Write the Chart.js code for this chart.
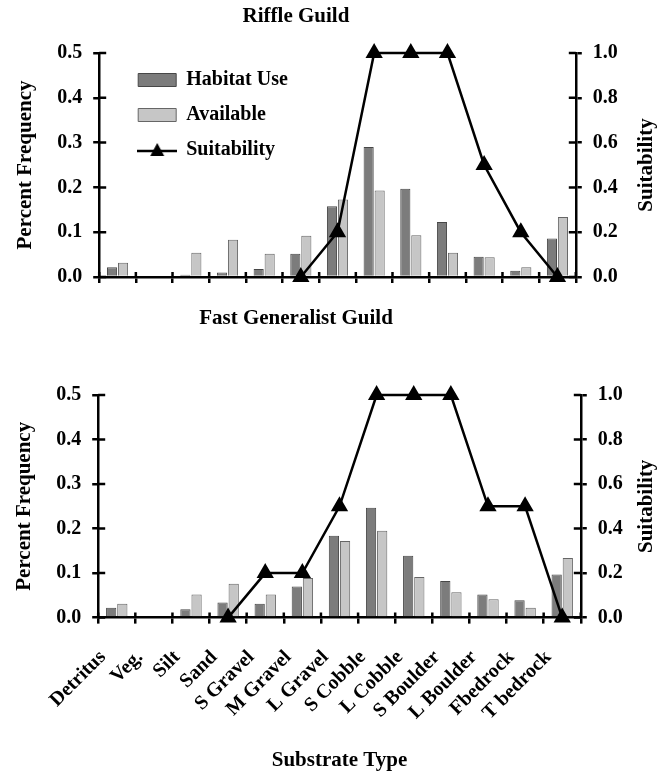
<!DOCTYPE html>
<html>
<head>
<meta charset="utf-8">
<script src="https://cdn.jsdelivr.net/npm/chart.js@4.4.1/dist/chart.umd.min.js"></script>
<style>
  body { margin: 0; background: #fff; }
  #wrap { position: relative; width: 671px; height: 773px; background: #fff; }
  canvas { position: absolute; left: 0; }
  .guild { position: absolute; left: 0; width: 592px; text-align: center;
           font: bold 21px "Liberation Serif", "Times New Roman", serif; line-height: 25px; }
</style>
</head>
<body>
<div id="wrap">
  <canvas id="riffleChart" width="671" height="300" style="top:0"></canvas>
  <canvas id="fastChart" width="671" height="473" style="top:300px"></canvas>
  <div class="guild" style="top:3px">Riffle Guild</div>
  <div class="guild" style="top:305px">Fast Generalist Guild</div>
</div>
<script>
const substrates = ['Detritus', 'Veg.', 'Silt', 'Sand', 'S Gravel', 'M Gravel', 'L Gravel',
                    'S Cobble', 'L Cobble', 'S Boulder', 'L Boulder', 'Fbedrock', 'T bedrock'];

// Riffle Guild
const riffleUse   = [0.022, 0, 0.005, 0.010, 0.018, 0.052, 0.158, 0.290, 0.197, 0.123, 0.045, 0.014, 0.086];
const riffleAvail = [0.032, 0, 0.054, 0.083, 0.052, 0.092, 0.173, 0.193, 0.093, 0.054, 0.044, 0.022, 0.134];
const riffleSuit  = [null, null, null, null, null, 0, 0.2, 1, 1, 1, 0.5, 0.2, 0];

// Fast Generalist Guild
const fastUse   = [0.022, 0, 0.019, 0.034, 0.031, 0.070, 0.184, 0.247, 0.139, 0.082, 0.052, 0.039, 0.097];
const fastAvail = [0.031, 0, 0.052, 0.076, 0.052, 0.089, 0.172, 0.195, 0.091, 0.057, 0.041, 0.022, 0.134];
const fastSuit  = [null, null, null, 0, 0.2, 0.2, 0.5, 1, 1, 1, 0.5, 0.5, 0];

const serif = "'Liberation Serif', 'Times New Roman', serif";
Chart.defaults.font.family = serif;
Chart.defaults.font.weight = 'bold';
Chart.defaults.font.size = 20;
Chart.defaults.color = '#000';

// small line + triangle symbol for the legend
const lineSymbol = document.createElement('canvas');
lineSymbol.width = 40; lineSymbol.height = 18;
(function () {
  const c = lineSymbol.getContext('2d');
  c.strokeStyle = '#000'; c.lineWidth = 2.5;
  c.beginPath(); c.moveTo(0, 10); c.lineTo(40, 10); c.stroke();
  c.fillStyle = '#000';
  c.beginPath(); c.moveTo(20, 2); c.lineTo(27, 15); c.lineTo(13, 15); c.closePath(); c.fill();
})();

// ticks crossing the axes (inner half)
const crossTicks = {
  id: 'crossTicks',
  beforeDatasetsDraw(chart) {
    const ctx = chart.ctx, a = chart.chartArea;
    const x = chart.scales.x, y = chart.scales.y, y1 = chart.scales.y1;
    ctx.save();
    ctx.strokeStyle = '#000';
    ctx.lineWidth = 2.5;
    ctx.beginPath();
    y.ticks.forEach((t, i) => { const p = y.getPixelForTick(i); ctx.moveTo(a.left, p); ctx.lineTo(a.left + 7, p); });
    y1.ticks.forEach((t, i) => { const p = y1.getPixelForTick(i); ctx.moveTo(a.right, p); ctx.lineTo(a.right - 7, p); });
    for (let i = 0; i <= x.ticks.length; i++) {
      const p = x.getPixelForValue(i - 0.5);
      ctx.moveTo(p, a.bottom); ctx.lineTo(p, a.bottom - 5);
    }
    ctx.stroke();
    ctx.restore();
  }
};

// right axis title reads bottom-to-top
const rightTitle = {
  id: 'rightTitle',
  afterDraw(chart) {
    const s = chart.scales.y1, ctx = chart.ctx;
    ctx.save();
    ctx.translate(s.right - 12.6, (s.top + s.bottom) / 2);
    ctx.rotate(-Math.PI / 2);
    ctx.font = 'bold 21px ' + serif;
    ctx.fillStyle = '#000';
    ctx.textAlign = 'center';
    ctx.textBaseline = 'middle';
    ctx.fillText(s.options.title.text, 0, 0);
    ctx.restore();
  }
};

// legend sits inside the plot, a little in from the left axis
const legendNudge = {
  id: 'legendNudge',
  afterLayout(chart) {
    if (chart.legend && chart.options.plugins.legend.display) {
      chart.legend.left = chart.chartArea.left + 24;
      chart.legend.top = chart.chartArea.top + 2;
    }
  }
};

const axisGrid = {
  drawOnChartArea: false,
  tickLength: 6,
  tickWidth: 2.5,
  tickColor: '#000',
  color: '#000',
  lineWidth: 2.5
};
const axisBorder = { color: '#000', width: 2.5 };
const oneDecimal = v => Number(v).toFixed(1);

function makeChart(id, use, avail, suit, bottom) {
  return new Chart(document.getElementById(id), {
    type: 'bar',
    data: {
      labels: substrates,
      datasets: [
        {
          label: 'Habitat Use',
          data: use,
          yAxisID: 'y',
          backgroundColor: '#7c7c7c',
          borderColor: '#474747',
          borderWidth: 1,
          categoryPercentage: 0.6,
          barPercentage: 0.92,
          order: 1
        },
        {
          label: 'Available',
          data: avail,
          yAxisID: 'y',
          backgroundColor: '#c6c6c6',
          borderColor: '#666',
          borderWidth: 1,
          categoryPercentage: 0.6,
          barPercentage: 0.92,
          order: 1
        },
        {
          type: 'line',
          label: 'Suitability',
          data: suit,
          yAxisID: 'y1',
          borderColor: '#000',
          backgroundColor: '#000',
          borderWidth: 2.5,
          pointStyle: 'triangle',
          pointRadius: 7.5,
          pointBackgroundColor: '#000',
          pointBorderColor: '#000',
          tension: 0,
          clip: false,
          order: 0
        }
      ]
    },
    options: {
      responsive: false,
      animation: false,
      layout: {
        padding: bottom ? { left: 12, right: 12, top: 95, bottom: 0 }
                        : { left: 13, right: 12, top: 53, bottom: 16 }
      },
      scales: {
        x: {
          grid: Object.assign({ offset: true }, axisGrid),
          border: axisBorder,
          ticks: bottom ? { autoSkip: false, maxRotation: 45, minRotation: 45, padding: 22, labelOffset: -14 }
                        : { display: false },
          title: {
            display: bottom,
            text: 'Substrate Type',
            font: { size: 21 },
            padding: { top: 1, bottom: 0 }
          }
        },
        y: {
          position: 'left',
          min: 0,
          max: 0.5,
          grid: axisGrid,
          border: axisBorder,
          ticks: { stepSize: 0.1, padding: 11, callback: oneDecimal },
          title: { display: true, text: 'Percent Frequency', font: { size: 21 }, padding: { top: 0, bottom: 8 } }
        },
        y1: {
          position: 'right',
          min: 0,
          max: 1,
          grid: axisGrid,
          border: axisBorder,
          ticks: { stepSize: 0.2, padding: 11, callback: oneDecimal },
          title: { display: true, text: 'Suitability', color: 'rgba(0,0,0,0)', font: { size: 21 },
                   padding: { top: 0, bottom: bottom ? 0 : 5 } }
        }
      },
      plugins: {
        tooltip: { enabled: false },
        legend: {
          display: !bottom,
          position: 'chartArea',
          align: 'start',
          labels: {
            usePointStyle: true,
            pointStyleWidth: 38,
            boxHeight: 13,
            padding: 15,
            color: '#000',
            font: { size: 20 },
            sort: (a, b) => a.datasetIndex - b.datasetIndex,
            generateLabels(chart) {
              const items = Chart.defaults.plugins.legend.labels.generateLabels(chart);
              items.forEach(it => {
                it.pointStyle = chart.data.datasets[it.datasetIndex].type === 'line' ? lineSymbol : 'rect';
              });
              return items;
            }
          }
        }
      }
    },
    plugins: [crossTicks, rightTitle, legendNudge]
  });
}

makeChart('riffleChart', riffleUse, riffleAvail, riffleSuit, false);
makeChart('fastChart', fastUse, fastAvail, fastSuit, true);
</script>
</body>
</html>
